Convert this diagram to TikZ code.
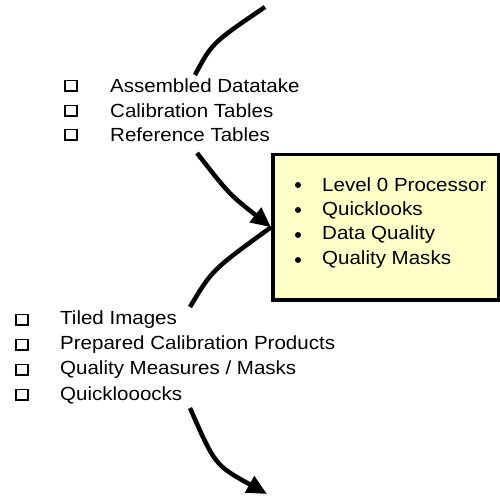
\documentclass[tikz,border=0pt]{standalone}
\usepackage{fontspec}
\setmainfont{Liberation Sans}[FakeStretch=1.08]
\usetikzlibrary{arrows.meta}
\definecolor{procfill}{RGB}{255,255,200}

\tikzset{
    item/.style={anchor=west, inner sep=0pt, font=\fontsize{19}{25}\selectfont},
    chk/.style={draw, line width=1.6pt, minimum width=12pt, minimum height=11pt, inner sep=0pt,
        path picture={\draw[line width=3.5pt] (path picture bounding box.south west) -- (path picture bounding box.south east);}},
    bul/.style={circle, fill=black, minimum size=6pt, inner sep=0pt},
    flow/.style={line width=4.5pt},
    head/.style={-{Triangle[length=20pt,width=18pt]}}
}

\begin{document}
\begin{tikzpicture}[x=1pt,y=-1pt]
    \useasboundingbox (0,0) rectangle (500,497);

    % input side
    \coordinate (t0) at (265,7);
    \coordinate (t1) at (195,75);
    \draw[flow] (t0) .. controls (212,43) .. (t1);

    \node[chk] (c1) at (71,86) {};  \node[item] (i1) at (110,86) {Assembled Datatake};
    \node[chk] (c2) at (71,111) {}; \node[item] (i2) at (110,111) {Calibration Tables};
    \node[chk] (c3) at (71,135) {}; \node[item] (i3) at (110,135) {Reference Tables};

    % processor box
    \node[draw, line width=3.5pt, fill=procfill, minimum width=226pt, minimum height=145pt,
          anchor=north west] (proc) at (271,153) {};
    \node[bul] (b1) at (298,185) {}; \node[item] (p1) at (322,185) {Level 0 Processor};
    \node[bul] (b2) at (298,210) {}; \node[item] (p2) at (322,210) {Quicklooks};
    \node[bul] (b3) at (298,235) {}; \node[item] (p3) at (322,235) {Data Quality};
    \node[bul] (b4) at (298,260) {}; \node[item] (p4) at (322,260) {Quality Masks};

    \coordinate (a0) at (197,153);
    \draw[flow, head] (a0) .. controls (229,194) .. (proc.west);

    % output side
    \coordinate (o0) at (190,307);
    \draw[flow] (proc.west) .. controls (212,270) .. (o0);

    \node[chk] (d1) at (22,320) {}; \node[item] (j1) at (60,320) {Tiled Images};
    \node[chk] (d2) at (22,345) {}; \node[item] (j2) at (60,345) {Prepared Calibration Products};
    \node[chk] (d3) at (22,370) {}; \node[item] (j3) at (60,370) {Quality Measures / Masks};
    \node[chk] (d4) at (22,395) {}; \node[item] (j4) at (60,395) {Quicklooocks};

    \coordinate (s0) at (190,408);
    \coordinate (s1) at (267,494);
    \draw[flow, head] (s0) .. controls (215,465) .. (s1);
\end{tikzpicture}
\end{document}
